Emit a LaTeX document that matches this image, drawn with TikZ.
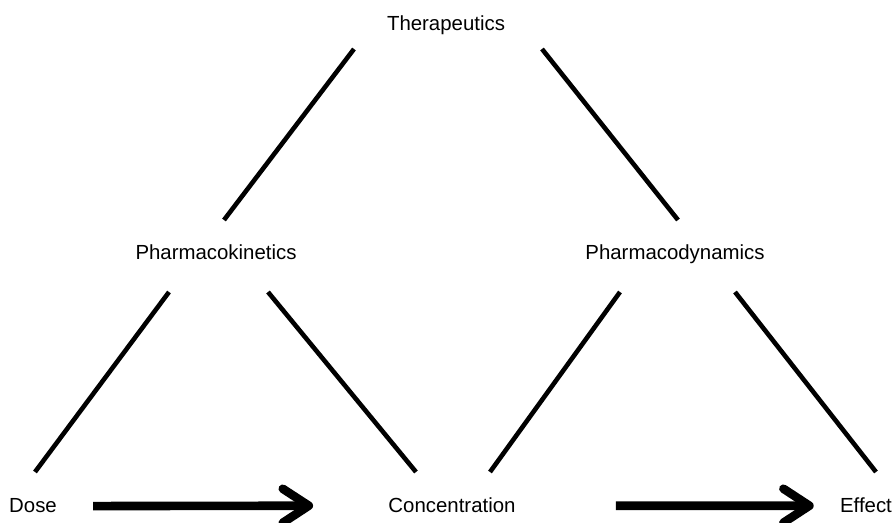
\documentclass[tikz,border=0pt]{standalone}
\usepackage{fontspec}
\setmainfont{Liberation Sans}
\usetikzlibrary{arrows.meta}

\begin{document}
\begin{tikzpicture}[x=0.5pt,y=-0.5pt,
  term/.style={inner sep=0pt, font=\fontsize{10.2}{12}\selectfont, anchor=base},
  link/.style={line width=2.3pt},
  flow/.style={line width=4.3pt, -{Straight Barb[length=13pt,width=17pt,round]}}]
  \useasboundingbox (0,0) rectangle (895,523);
  % labels
  \node[term] (ther) at (446,31) {Therapeutics};
  \node[term] (pk) at (216,260) {Pharmacokinetics};
  \node[term] (pd) at (675,260) {Pharmacodynamics};
  \node[term] (dose) at (33,513) {Dose};
  \node[term] (conc) at (452,513) {Concentration};
  \node[term] (effect) at (866,513) {Effect};
  % upper triangle
  \draw[link] ([shift={(-92,18)}]ther.base) -- ([shift={(8,-40)}]pk.base);
  \draw[link] ([shift={(96,18)}]ther.base) -- ([shift={(3,-40)}]pd.base);
  % lower triangles
  \draw[link] ([shift={(-47,32)}]pk.base) -- ([shift={(2,-41)}]dose.base);
  \draw[link] ([shift={(52,32)}]pk.base) -- ([shift={(-36,-41)}]conc.base);
  \draw[link] ([shift={(-55,32)}]pd.base) -- ([shift={(38,-41)}]conc.base);
  \draw[link] ([shift={(60,32)}]pd.base) -- ([shift={(10,-41)}]effect.base);
  % arrows
  \draw[flow] ([xshift=18pt]dose.east) -- ([xshift=-37.5pt]conc.west);
  \draw[flow] ([xshift=50pt]conc.east) -- ([xshift=-13pt]effect.west);
\end{tikzpicture}
\end{document}
